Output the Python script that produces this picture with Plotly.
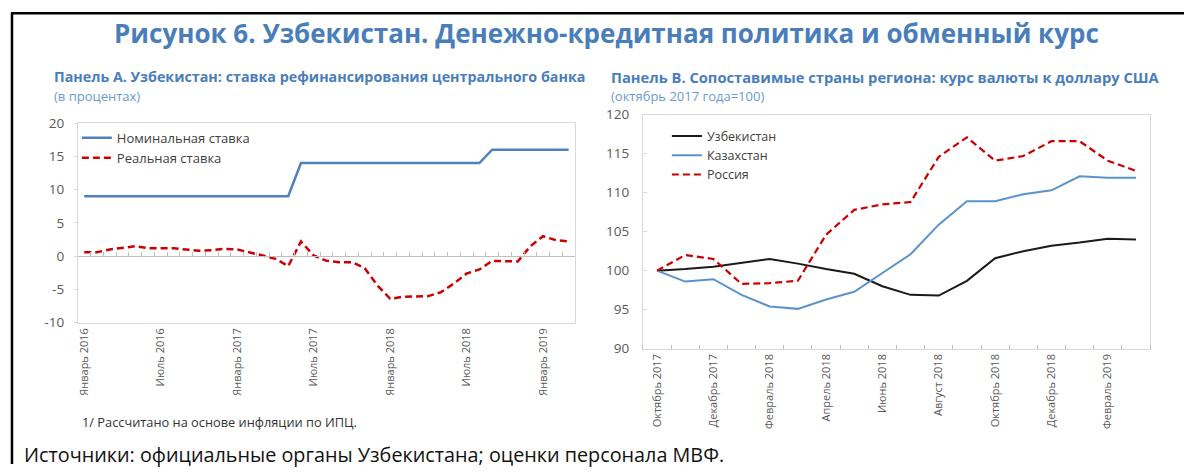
import plotly.graph_objects as go

W, H = 1184, 473

# ---------------- Data ----------------
months_ru = ["Январь", "Февраль", "Март", "Апрель", "Май", "Июнь", "Июль",
             "Август", "Сентябрь", "Октябрь", "Ноябрь", "Декабрь"]

# Panel A: Jan 2016 .. Mar 2019 (monthly)
months_a = [f"{months_ru[m]} {y}" for y in (2016, 2017, 2018, 2019) for m in range(12)][:39]
nominal_rate = [9] * 17 + [14] * 15 + [16] * 7
real_rate = [0.6, 0.6, 1.0, 1.3, 1.5, 1.2, 1.2, 1.2, 1.0, 0.8,
             0.9, 1.1, 1.0, 0.6, 0.1, -0.4, -1.5, 2.2, 0.1, -0.7,
             -0.9, -0.9, -1.8, -4.4, -6.4, -6.1, -6.1, -6.0, -5.4, -4.1,
             -2.6, -2.0, -0.7, -0.8, -0.8, 1.5, 3.0, 2.4, 2.2]
ticks_a = ["Январь 2016", "Июль 2016", "Январь 2017", "Июль 2017",
           "Январь 2018", "Июль 2018", "Январь 2019"]
yticks_a = [-10, -5, 0, 5, 10, 15, 20]
yticklabels_a = ["-10", "-5", "0", "5", "10", "15", "20"]

# Panel B: Oct 2017 .. Mar 2019 (monthly), Oct 2017 = 100
months_b = [f"{months_ru[m]} {y}" for y, ms in ((2017, range(9, 12)), (2018, range(12)), (2019, range(3))) for m in ms]
uzbekistan = [100.0, 100.2, 100.5, 101.0, 101.5, 100.9, 100.2, 99.6, 98.0,
              96.9, 96.8, 98.7, 101.6, 102.5, 103.2, 103.6, 104.1, 104.0]
kazakhstan = [100.0, 98.6, 98.9, 96.9, 95.4, 95.1, 96.3, 97.3, 99.7,
              102.1, 105.9, 108.9, 108.9, 109.8, 110.3, 112.1, 111.9, 111.9]
russia = [100.0, 102.0, 101.5, 98.3, 98.4, 98.7, 104.6, 107.8, 108.5,
          108.8, 114.6, 117.1, 114.1, 114.7, 116.6, 116.6, 114.1, 112.8]
ticks_b = ["Октябрь 2017", "Декабрь 2017", "Февраль 2018", "Апрель 2018",
           "Июнь 2018", "Август 2018", "Октябрь 2018", "Декабрь 2018", "Февраль 2019"]

# ---------------- Styling ----------------
FONT = "Open Sans"
BLUE_T = "#4a7ebb"
BLUE_L = "#4f81bd"
KAZ = "#5b93c8"
RED = "#cc0000"
GRAY_TXT = "#595959"
BORDER = "#d9d9d9"
DASH = "7px,4px"

# vertical calibration of the capture (page is shown slightly squeezed vertically)
K = 0.965
C = H / 2


def px(x):
    return x / W


def py(y):
    return 1 - (C + (y - C) / K) / H


xa = list(range(len(months_a)))
xb = list(range(len(months_b)))

fig = go.Figure()

fig.add_trace(go.Scatter(x=xa, y=nominal_rate, name="Номинальная ставка", mode="lines",
                         line=dict(color=BLUE_L, width=2.5), xaxis="x", yaxis="y", legend="legend"))
fig.add_trace(go.Scatter(x=xa, y=real_rate, name="Реальная ставка", mode="lines",
                         line=dict(color=RED, width=2.5, dash=DASH), xaxis="x", yaxis="y", legend="legend"))
# carrier for the zero-line tick axis (no visible marks)
fig.add_trace(go.Scatter(x=xa, y=real_rate, mode="lines", line=dict(width=0), showlegend=False,
                         hoverinfo="skip", xaxis="x3", yaxis="y"))

fig.add_trace(go.Scatter(x=xb, y=uzbekistan, name="Узбекистан", mode="lines",
                         line=dict(color="#1a1a1a", width=2), xaxis="x2", yaxis="y2", legend="legend2"))
fig.add_trace(go.Scatter(x=xb, y=kazakhstan, name="Казахстан", mode="lines",
                         line=dict(color=KAZ, width=2), xaxis="x2", yaxis="y2", legend="legend2"))
fig.add_trace(go.Scatter(x=xb, y=russia, name="Россия", mode="lines",
                         line=dict(color=RED, width=2.2, dash=DASH), xaxis="x2", yaxis="y2", legend="legend2"))

dom_ax = [px(76), px(574)]
dom_ay = [py(323), py(122.7)]
dom_bx = [px(642), px(1150)]
dom_by = [py(349), py(114.3)]

ya_min, ya_max = -10, 20
zero_pos = dom_ay[0] + (dom_ay[1] - dom_ay[0]) * (0 - ya_min) / (ya_max - ya_min)

tickfont = dict(family=FONT, size=11, color=GRAY_TXT)
yfont = dict(family=FONT, size=13.5, color=GRAY_TXT)

fig.update_layout(
    width=W, height=H, autosize=False,
    margin=dict(l=0, r=0, t=0, b=0),
    paper_bgcolor="white", plot_bgcolor="white",
    font=dict(family=FONT, color=GRAY_TXT),
    xaxis=dict(domain=dom_ax, anchor="y", range=[-0.5, len(xa) - 0.5],
               tickmode="array", tickvals=[months_a.index(t) for t in ticks_a], ticktext=ticks_a,
               tickangle=-90, tickfont=tickfont, ticks="", showgrid=False, zeroline=False,
               showline=True, linecolor=BORDER, linewidth=1, mirror=True),
    xaxis3=dict(overlaying="x", anchor="free", position=zero_pos, range=[-0.5, len(xa) - 0.5],
                tickmode="linear", tick0=-0.5, dtick=1, ticks="inside", ticklen=4,
                tickcolor="#bfbfbf", showticklabels=False, showgrid=False, zeroline=False,
                showline=True, linecolor="#bfbfbf", linewidth=1),
    yaxis=dict(domain=dom_ay, anchor="x", range=[ya_min, ya_max],
               tickmode="array", tickvals=yticks_a, ticktext=yticklabels_a,
               tickfont=yfont, ticks="outside", ticklen=3, tickcolor=BORDER,
               ticklabelstandoff=7,
               showgrid=False, zeroline=False, showline=True, linecolor=BORDER,
               linewidth=1, mirror=True),
    xaxis2=dict(domain=dom_bx, anchor="y2", range=[-0.5, len(xb) - 0.5],
                tickmode="array", tickvals=[months_b.index(t) for t in ticks_b], ticktext=ticks_b,
                tickangle=-90, tickfont=tickfont, ticks="", showgrid=False, zeroline=False,
                showline=True, linecolor=BORDER, linewidth=1, mirror=True,
                minor=dict(tickmode="linear", tick0=-0.5, dtick=1, ticks="inside",
                           ticklen=4, tickcolor="#bfbfbf", showgrid=False)),
    yaxis2=dict(domain=dom_by, anchor="x2", range=[90, 120], dtick=5,
                tickfont=yfont, ticks="inside", ticklen=4, tickcolor=BORDER,
                ticklabelstandoff=10,
                showgrid=False, zeroline=False, showline=True, linecolor=BORDER,
                linewidth=1, mirror=True),
    legend=dict(x=px(75), y=py(122.5), xanchor="left", yanchor="top",
                font=dict(family=FONT, size=13, color="#404040"), bgcolor="rgba(0,0,0,0)",
                itemwidth=30, tracegroupgap=0),
    legend2=dict(x=px(666), y=py(121), xanchor="left", yanchor="top",
                 font=dict(family=FONT, size=12.5, color="#404040"), bgcolor="rgba(0,0,0,0)",
                 itemwidth=30, tracegroupgap=0),
    showlegend=True,
)

annotations = [
    dict(text="<b>Рисунок 6. Узбекистан. Денежно-кредитная политика и обменный курс</b>",
         x=px(606), y=py(32), xanchor="center", yanchor="middle",
         font=dict(family=FONT, size=26, color=BLUE_T)),
    dict(text="<b>Панель А. Узбекистан: ставка рефинансирования центрального банка</b>",
         x=px(50), y=py(76), xanchor="left", yanchor="middle",
         font=dict(family=FONT, size=14.3, color=BLUE_T)),
    dict(text="(в процентах)", x=px(50), y=py(96), xanchor="left", yanchor="middle",
         font=dict(family=FONT, size=13, color="#6a9bd0")),
    dict(text="<b>Панель B. Сопоставимые страны региона: курс валюты к доллару США</b>",
         x=px(608), y=py(76), xanchor="left", yanchor="middle",
         font=dict(family=FONT, size=14.7, color=BLUE_T)),
    dict(text="(октябрь 2017 года=100)", x=px(608), y=py(96), xanchor="left", yanchor="middle",
         font=dict(family=FONT, size=13, color="#6a9bd0")),
    dict(text="1/ Рассчитано на основе инфляции по ИПЦ.", x=px(78), y=py(423),
         xanchor="left", yanchor="middle", font=dict(family=FONT, size=12.8, color="#333333")),
    dict(text="Источники: официальные органы Узбекистана; оценки персонала МВФ.",
         x=px(20), y=1 - 463 / H, xanchor="left", yanchor="middle",
         font=dict(family=FONT, size=19.8, color="#111111")),
]
for a in annotations:
    a.update(xref="paper", yref="paper", showarrow=False)
fig.update_layout(annotations=annotations)

fig.update_layout(shapes=[
    dict(type="line", xref="paper", yref="paper", x0=px(9), x1=1, y0=py(12.5), y1=py(12.5),
         line=dict(color="black", width=2.5)),
    dict(type="line", xref="paper", yref="paper", x0=px(10), x1=px(10), y0=py(12.5), y1=0,
         line=dict(color="black", width=2.5)),
])

page_css = (
    "var s=document.createElement('style');"
    "s.textContent='html,body{margin:0!important;padding:0!important;overflow:hidden!important;"
    "width:1184px!important;height:473px!important;}"
    ".plotly-graph-div{position:absolute!important;left:0;top:0;}';"
    "document.head.appendChild(s);"
)

fig.write_html("out.html", config={"displayModeBar": False}, post_script=page_css)
